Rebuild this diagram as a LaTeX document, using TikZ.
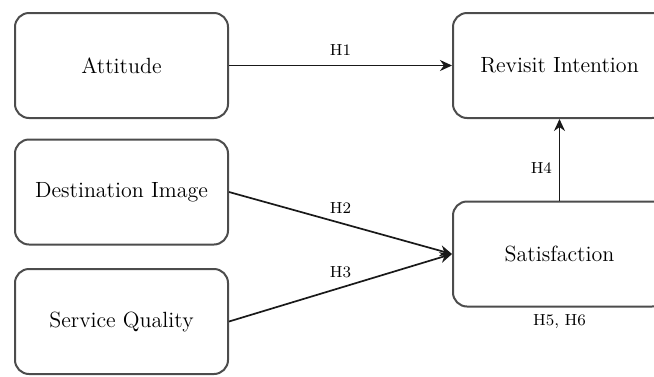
\documentclass[tikz,border=0pt]{standalone}
\usetikzlibrary{arrows.meta}

\begin{document}
\begin{tikzpicture}[x=0.5pt, y=-0.5pt,
  box/.style={draw=black!70, line width=1pt, rounded corners=7pt,
    minimum width=106.5pt, minimum height=52.5pt,
    font=\rmfamily\fontsize{11}{13}\selectfont, text=black},
  link/.style={draw=black!90, line width=0.85pt,
    -{Stealth[length=6pt, width=5.5pt]}},
  hyp/.style={font=\rmfamily\fontsize{8}{9}\selectfont, text=black}]
  \useasboundingbox (0,0) rectangle (654,376);

  % constructs (right column runs past the page edge)
  \node[box] (att)  at (121.5, 65.5) {Attitude};
  \node[box] (rev)  at (559.5, 65.5) {Revisit Intention};
  \node[box] (dest) at (121.5, 192)  {Destination Image};
  \node[box] (serv) at (121.5, 321.5) {Service Quality};
  \node[box] (sat)  at (559.5, 254)  {Satisfaction};

  % hypotheses
  \draw[link] (att) -- node[hyp, above, yshift=1pt] {H1} (rev);
  \draw[link] (dest.east) -- node[hyp, above, yshift=1pt] {H2} (sat.west);
  \draw[link] (serv.east) -- node[hyp, above, yshift=1pt] {H3} (sat.west);
  \draw[link] (sat) -- node[hyp, left, pos=0.4] {H4} (rev);
  \node[hyp, below] (h56) at (sat.south) {H5, H6};
\end{tikzpicture}
\end{document}
